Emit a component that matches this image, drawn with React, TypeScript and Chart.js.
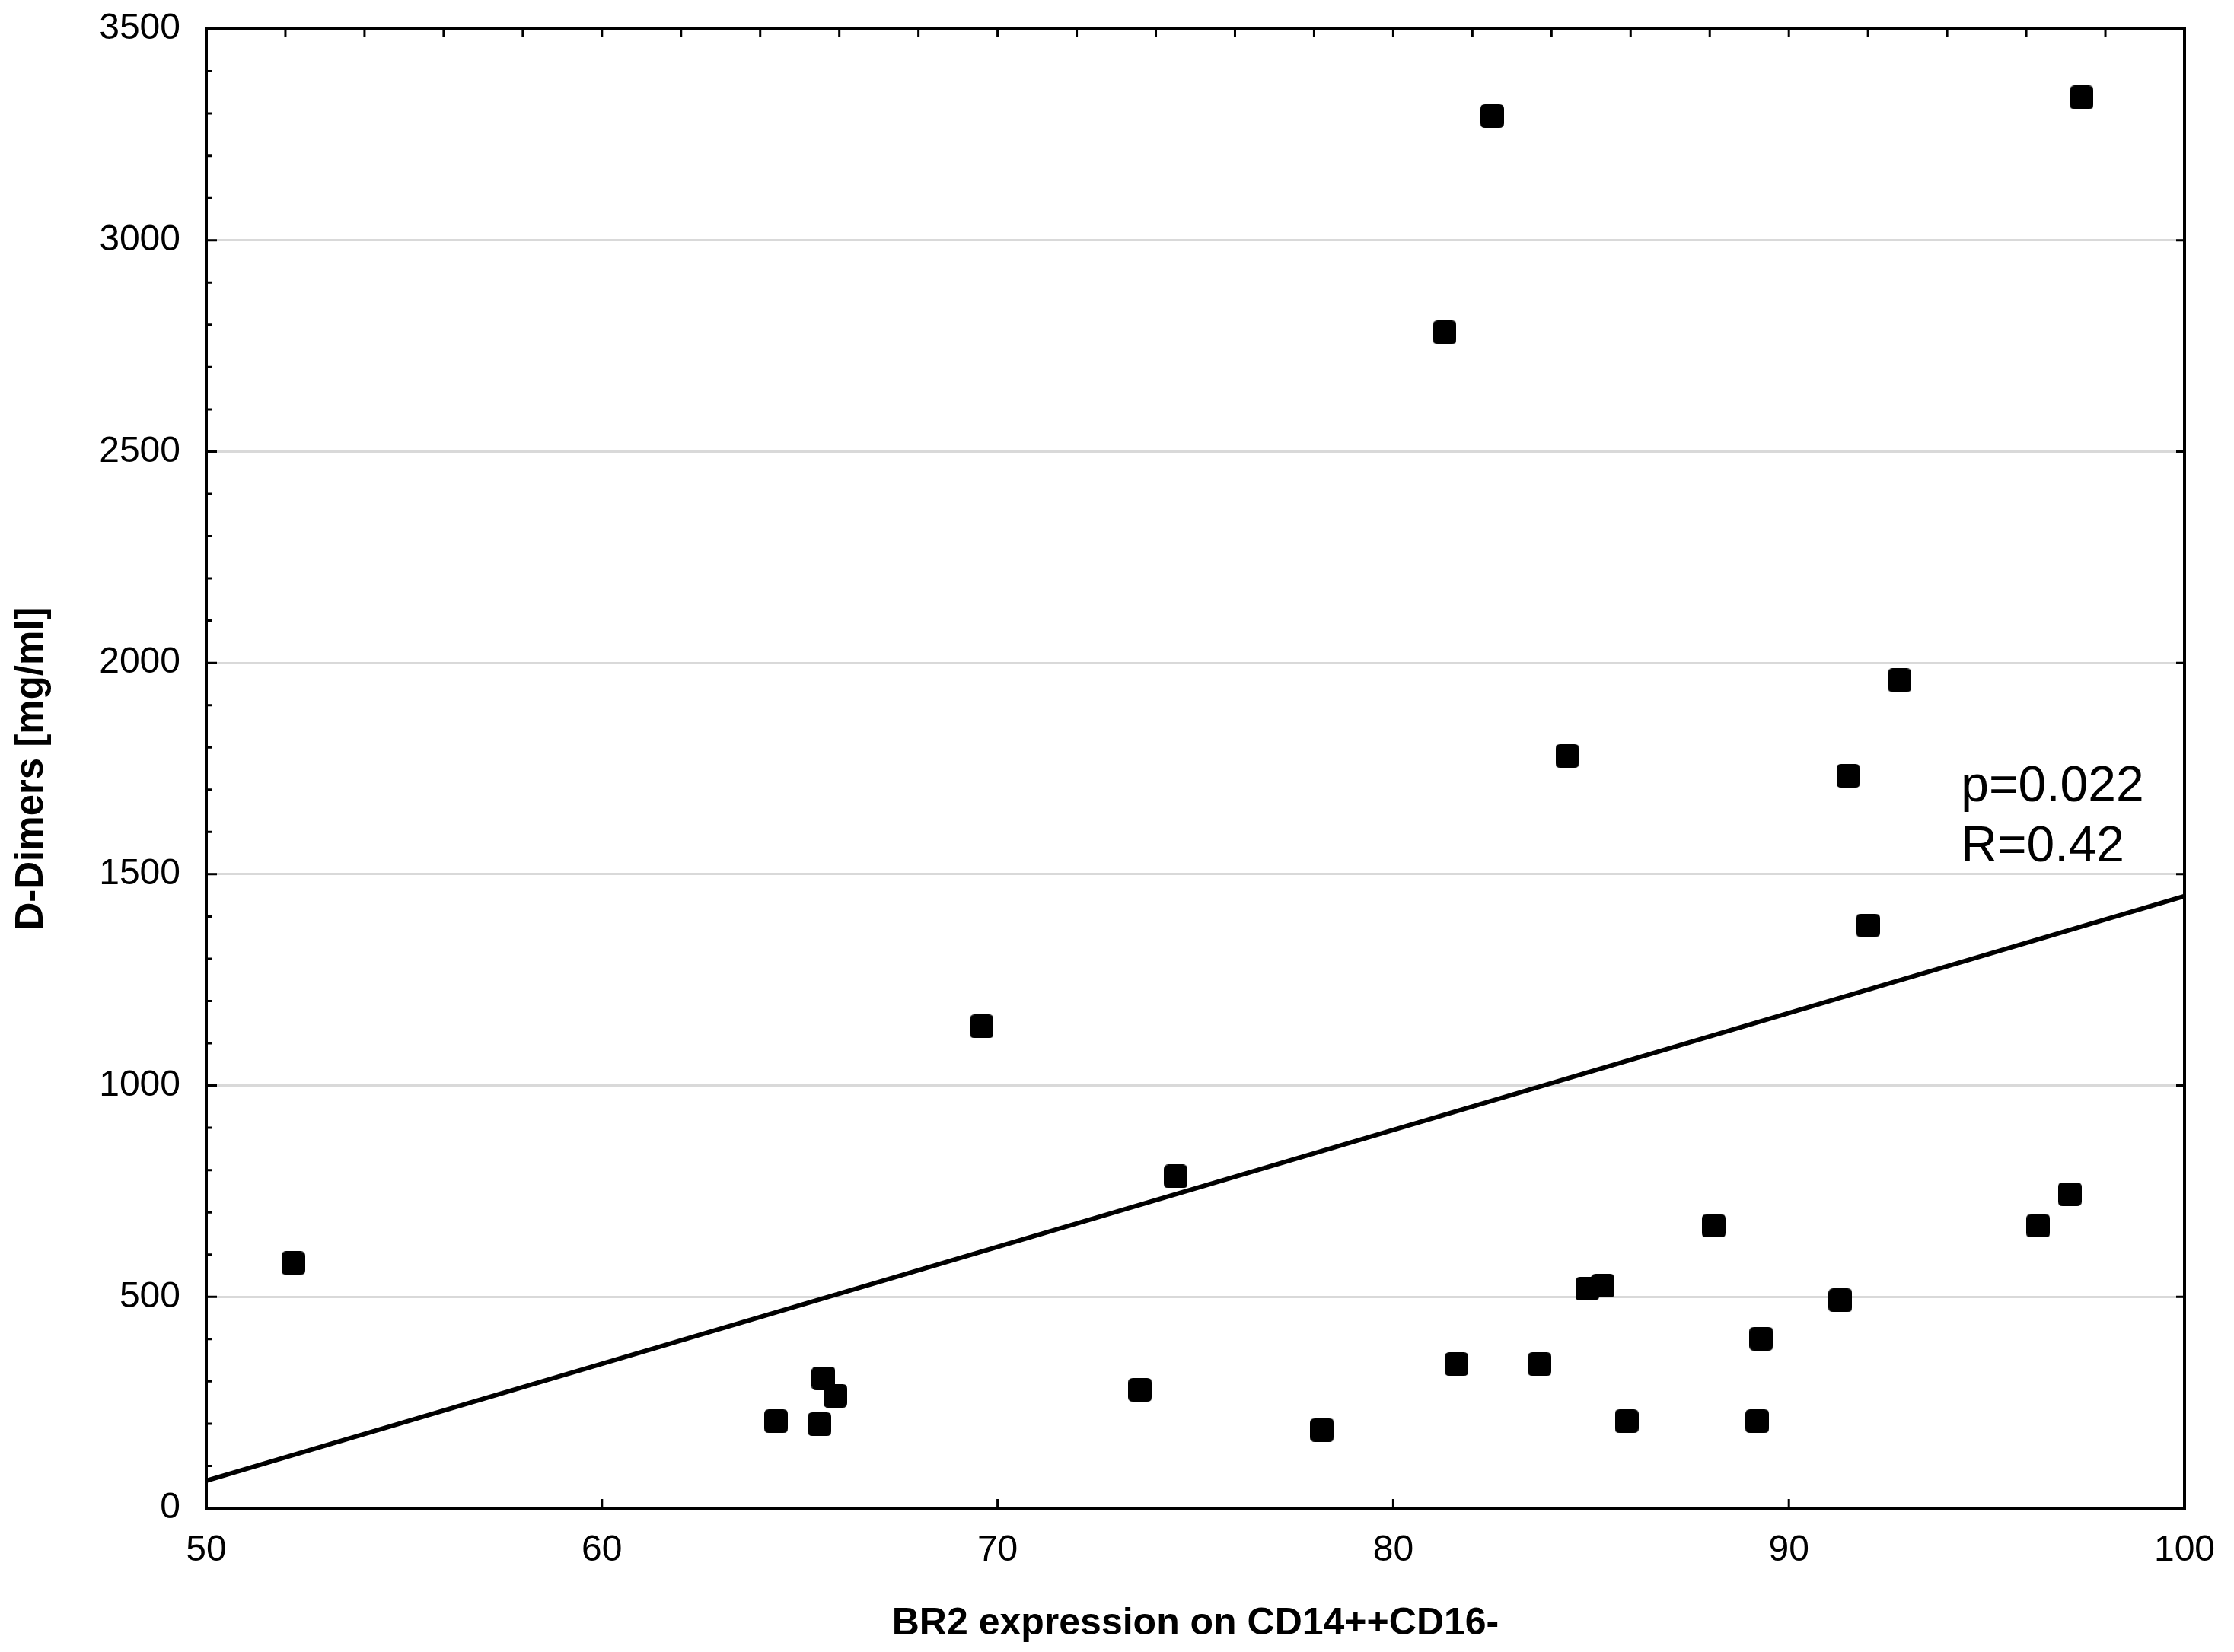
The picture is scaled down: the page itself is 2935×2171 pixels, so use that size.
import React, { useEffect, useRef } from 'react';
import { Chart, registerables } from 'chart.js';

Chart.register(...registerables);

// ---- data ----
const xValues = [52.2, 64.4, 65.5, 65.6, 65.9, 69.6, 73.6, 74.5, 78.2, 81.3, 81.6, 82.5, 83.7, 84.4, 84.9, 85.3, 85.9, 88.1, 89.2, 89.3, 91.3, 91.5, 92.0, 92.8, 96.3, 97.1, 97.4];
const yValues = [580, 206, 199, 307, 266, 1140, 280, 785, 185, 2782, 341, 3294, 341, 1780, 519, 526, 206, 668, 206, 401, 492, 1733, 1379, 1959, 668, 743, 3338];
const fitX = [50, 100];
const fitY = [65, 1448];
const xTickValues = [50, 60, 70, 80, 90, 100];
const yTickValues = [0, 500, 1000, 1500, 2000, 2500, 3000, 3500];
const annotationLines = ['p=0.022', 'R=0.42'];
const annotationAnchor = { x: 94.35, y: 1673 };
const xTitle = 'BR2 expression on CD14++CD16-';
const yTitle = 'D-Dimers [mg/ml]';

const W = 2935;
const H = 2171;
const FONT = "'Liberation Sans', Arial, Helvetica, sans-serif";

function makeMarker(): HTMLCanvasElement {
  const s = 31;
  const r = 6;
  const c = document.createElement('canvas');
  c.width = s;
  c.height = s;
  const ctx = c.getContext('2d')!;
  ctx.fillStyle = '#000';
  ctx.beginPath();
  ctx.moveTo(r, 0);
  ctx.lineTo(s - r, 0);
  ctx.quadraticCurveTo(s, 0, s, r);
  ctx.lineTo(s, s - r);
  ctx.quadraticCurveTo(s, s, s - r, s);
  ctx.lineTo(r, s);
  ctx.quadraticCurveTo(0, s, 0, s - r);
  ctx.lineTo(0, r);
  ctx.quadraticCurveTo(0, 0, r, 0);
  ctx.closePath();
  ctx.fill();
  return c;
}

const framePlugin = {
  id: 'frameTicks',
  beforeDatasetsDraw(chart: any) {
    const { ctx, chartArea } = chart;
    const xs = chart.scales.x;
    const ys = chart.scales.y;
    const { left, right, top, bottom } = chartArea;
    ctx.save();
    ctx.strokeStyle = '#000';
    ctx.lineWidth = 3;
    ctx.beginPath();
    for (let v = 0; v <= 3500; v += 100) {
      const y = ys.getPixelForValue(v);
      const len = v % 500 === 0 ? 14 : 8;
      ctx.moveTo(left, y);
      ctx.lineTo(left + len, y);
    }
    for (const v of yTickValues) {
      const y = ys.getPixelForValue(v);
      ctx.moveTo(right, y);
      ctx.lineTo(right - 11, y);
    }
    for (let v = 50; v <= 100; v += 2) {
      const x = xs.getPixelForValue(v);
      ctx.moveTo(x, top);
      ctx.lineTo(x, top + 10);
    }
    for (const v of xTickValues) {
      const x = xs.getPixelForValue(v);
      ctx.moveTo(x, bottom);
      ctx.lineTo(x, bottom - 12);
    }
    ctx.stroke();
    ctx.lineWidth = 4;
    ctx.strokeRect(left, top, right - left, bottom - top);
    ctx.restore();
  },
  afterDraw(chart: any) {
    const { ctx } = chart;
    const xs = chart.scales.x;
    const ys = chart.scales.y;
    const x = xs.getPixelForValue(annotationAnchor.x);
    const y0 = ys.getPixelForValue(annotationAnchor.y);
    ctx.save();
    ctx.fillStyle = '#000';
    ctx.font = `66px ${FONT}`;
    ctx.textAlign = 'left';
    ctx.textBaseline = 'alphabetic';
    annotationLines.forEach((t, i) => ctx.fillText(t, x, y0 + i * 79));
    ctx.restore();
  },
};

export default function App() {
  const ref = useRef<HTMLCanvasElement>(null);
  useEffect(() => {
    if (!ref.current) return;
    Chart.defaults.font.family = FONT;
    Chart.defaults.color = '#000';
    const marker = makeMarker();
    const points = xValues.map((x, i) => ({ x, y: yValues[i] }));
    const fit = fitX.map((x, i) => ({ x, y: fitY[i] }));
    const chart = new Chart(ref.current, {
      type: 'scatter',
      data: {
        datasets: [
          {
            data: fit,
            showLine: true,
            borderColor: '#000',
            borderWidth: 6,
            pointRadius: 0,
            pointHoverRadius: 0,
            order: 2,
          } as any,
          {
            data: points,
            pointStyle: marker as any,
            pointRadius: 15,
            pointHoverRadius: 15,
            backgroundColor: '#000',
            borderColor: '#000',
            order: 1,
          },
        ],
      },
      options: {
        responsive: false,
        animation: false,
        devicePixelRatio: 1,
        events: [],
        layout: { padding: { left: 0, right: 65, top: 38, bottom: 0 } },
        plugins: {
          legend: { display: false },
          tooltip: { enabled: false },
        },
        scales: {
          x: {
            type: 'linear',
            min: 50,
            max: 100,
            afterBuildTicks: (s: any) => {
              s.ticks = xTickValues.map((v) => ({ value: v }));
            },
            afterFit: (s: any) => {
              s.height = H - 1982;
              s.paddingLeft = 0;
              s.paddingRight = 0;
            },
            grid: { display: false, drawTicks: false },
            border: { display: false },
            ticks: {
              padding: 27,
              font: { size: 48 },
              color: '#000',
              maxRotation: 0,
              autoSkip: false,
              callback: (v: any) => String(v),
            },
            title: {
              display: true,
              text: xTitle,
              font: { size: 50, weight: 'bold' },
              color: '#000',
              padding: { top: 0, bottom: 7 },
            },
          },
          y: {
            type: 'linear',
            min: 0,
            max: 3500,
            afterBuildTicks: (s: any) => {
              s.ticks = yTickValues.map((v) => ({ value: v }));
            },
            afterFit: (s: any) => {
              s.width = 271;
              s.paddingTop = 0;
              s.paddingBottom = 0;
            },
            grid: {
              drawTicks: false,
              color: (c: any) => (c.tick && (c.tick.value === 0 || c.tick.value === 3500) ? 'rgba(0,0,0,0)' : '#d9d9d9'),
              lineWidth: 3,
            },
            border: { display: false },
            ticks: {
              padding: 34,
              font: { size: 48 },
              color: '#000',
              autoSkip: false,
              callback: (v: any) => String(v),
            },
            title: {
              display: true,
              text: yTitle,
              font: { size: 51, weight: 'bold' },
              color: '#000',
              padding: { top: 11, bottom: 0 },
            },
          },
        },
      },
      plugins: [framePlugin],
    });
    return () => chart.destroy();
  }, []);
  return (
    <div style={{ position: 'absolute', left: 0, top: 0, width: W, height: H, background: '#fff' }}>
      <canvas ref={ref} width={W} height={H} style={{ display: 'block', width: W, height: H }} />
    </div>
  );
}
